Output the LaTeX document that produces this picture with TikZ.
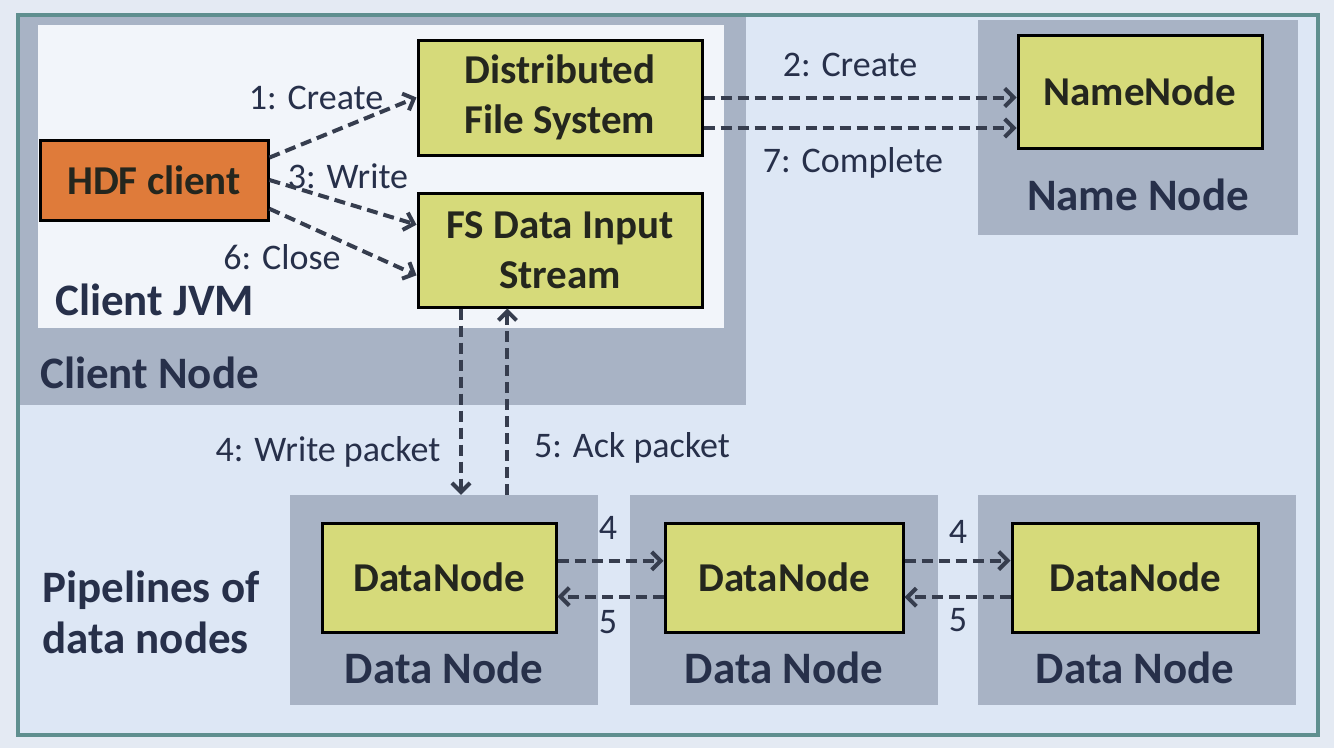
\documentclass[tikz,border=0pt]{standalone}
\usepackage{fontspec}
\setmainfont{Carlito}
\usepackage{xcolor}
\usepackage{tikz}
\usetikzlibrary{calc}
\usetikzlibrary{arrows.meta}
\usetikzlibrary{positioning}
\definecolor{pagebg}{HTML}{E4EAF3}
\definecolor{framefill}{HTML}{DDE7F5}
\definecolor{frameline}{HTML}{5F8F8F}
\definecolor{regiongrey}{HTML}{A8B3C5}
\definecolor{jvmwhite}{HTML}{F2F5FA}
\definecolor{procyellow}{HTML}{D6DA7A}
\definecolor{clientorange}{HTML}{DF7B3A}
\definecolor{textdark}{HTML}{27304A}
\definecolor{boxtext}{HTML}{24261E}
\definecolor{arrowgrey}{HTML}{363D4E}
\newcommand{\procfont}{\fontsize{41}{50}\selectfont\bfseries}
\newcommand{\regfont}{\fontsize{45}{51}\selectfont\bfseries}
\newcommand{\msgfont}{\fontsize{36}{42}\selectfont}
\tikzstyle{regionnode}=[shape=rectangle, fill=regiongrey, inner sep=0pt]
\tikzstyle{procnode}=[shape=rectangle, draw=black, line width=3pt, fill=procyellow, text=boxtext, font=\procfont, align=center, inner sep=0pt]
\tikzstyle{clientnode}=[procnode, fill=clientorange]
\tikzstyle{regionlabel}=[text=textdark, font=\regfont, inner sep=0pt, align=left]
\tikzstyle{msglabel}=[text=textdark, font=\msgfont, inner sep=0pt]
\tikzstyle{msgarrow}=[-{Straight Barb[length=9pt, width=18pt]}, line width=4pt, dash pattern=on 11pt off 6pt, color=arrowgrey]

\begin{document}
\begin{tikzpicture}[x=1pt, y=-1pt]
\fill[pagebg] (0,0) rectangle (1334,748);
\node [shape=rectangle, fill=framefill, minimum width=1300, minimum height=720, inner sep=0pt] (frame) at (668,375) {};

% grey regions
\node [regionnode, minimum width=726, minimum height=388] (clientreg) at (383,211) {};
\node [shape=rectangle, fill=jvmwhite, inner sep=0pt, minimum width=686, minimum height=303] (jvmreg) at (381,176.5) {};
\node [regionnode, minimum width=320, minimum height=215] (namereg) at (1138,127.5) {};
\node [regionnode, minimum width=308, minimum height=210] (dnreg1) at (444,600) {};
\node [regionnode, minimum width=308, minimum height=210] (dnreg2) at (784,600) {};
\node [regionnode, minimum width=318, minimum height=210] (dnreg3) at (1137,600) {};

% boxes
\node [clientnode, minimum width=228, minimum height=80] (hdf) at (154,180) {HDF client};
\node [procnode, minimum width=284, minimum height=115] (dfs) at (560,97.5) {Distributed\\File System};
\node [procnode, minimum width=284, minimum height=114] (fsin) at (560,250) {FS Data Input\\Stream};
\node [procnode, minimum width=244, minimum height=113] (namenode) at (1140,91.5) {NameNode};
\node [procnode, minimum width=234, minimum height=109] (dn1) at (439,577.5) {DataNode};
\node [procnode, minimum width=238, minimum height=109] (dn2) at (784,577.5) {DataNode};
\node [procnode, minimum width=246, minimum height=109] (dn3) at (1135,577.5) {DataNode};

% region labels
\node [regionlabel, anchor=west] (jvmlabel) at (55,300) {Client JVM};
\node [regionlabel, anchor=west] (clientlabel) at (40,373) {Client Node};
\node [regionlabel] (namelabel) at (1138,195) {Name Node};
\node [regionlabel] (dnlabel1) at (444,668) {Data Node};
\node [regionlabel] (dnlabel2) at (784,668) {Data Node};
\node [regionlabel] (dnlabel3) at (1135,668) {Data Node};
\node [regionlabel, anchor=west] (pipelabel) at (42,612) {Pipelines of\\data nodes};

% message labels
\node [msglabel] (createlabel) at (316,98) {1: Create};
\node [msglabel] (writelabel) at (348,176) {3: Write};
\node [msglabel] (closelabel) at (282,257) {6: Close};
\node [msglabel] (nncreatelabel) at (850,65) {2: Create};
\node [msglabel] (completelabel) at (853,163) {7: Complete};
\node [msglabel] (wpacketlabel) at (328,452) {4: Write packet};
\node [msglabel] (apacketlabel) at (632,448) {5: Ack packet};
\node [msglabel] (fwd1) at (608,528) {4};
\node [msglabel] (back1) at (608,622) {5};
\node [msglabel] (fwd2) at (958,532) {4};
\node [msglabel] (back2) at (958,620) {5};

\coordinate (wp) at ($(fsin.south west)!0.155!(fsin.south east)$);
\coordinate (ap) at ($(fsin.south west)!0.317!(fsin.south east)$);

\draw[msgarrow] (hdf.11) -- (dfs.west);
\draw[msgarrow] (hdf.east) -- (fsin.170);
\draw[msgarrow] (hdf.-14) -- (fsin.190);
\draw[msgarrow] (dfs.east) -- (dfs.east -| namenode.west);
\draw[msgarrow] (dfs.-12) -- (dfs.-12 -| namenode.west);
\draw[msgarrow] (wp) -- (wp |- dnreg1.north);
\draw[msgarrow] (ap |- dnreg1.north) -- (ap);
\draw[msgarrow] (dn1.8.5) -- (dn1.8.5 -| dn2.west);
\draw[msgarrow] (dn2.189) -- (dn2.189 -| dn1.east);
\draw[msgarrow] (dn2.8.5) -- (dn2.8.5 -| dn3.west);
\draw[msgarrow] (dn3.189) -- (dn3.189 -| dn2.east);

\draw[frameline, line width=3.5pt] (frame.north west) rectangle (frame.south east);
\end{tikzpicture}
\end{document}
